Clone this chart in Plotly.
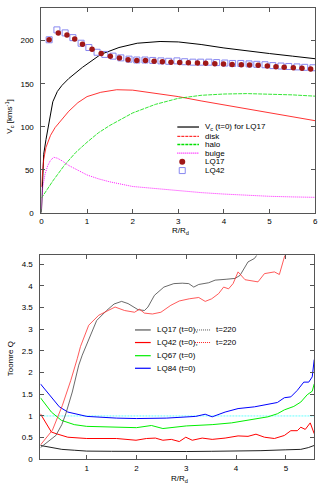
import plotly.graph_objects as go

W, H = 332, 498

# ---------------- top panel data ----------------
vc_r = [0, 0.02, 0.05, 0.1, 0.15, 0.2, 0.25, 0.35, 0.45, 0.6, 0.9, 1.3, 1.7, 2.1, 2.6, 3.0, 3.5, 4.0, 4.5, 5.0, 5.5, 6.0]
vc_v = [0, 40, 68, 85, 100, 117, 129, 141, 148, 156, 169, 184, 192, 197, 199, 198.5, 195.5, 191.5, 188, 185, 182, 179]

disk_r = [0, 0.02, 0.05, 0.1, 0.2, 0.3, 0.45, 0.6, 0.8, 1.0, 1.3, 1.65, 2.0, 2.5, 3.0, 3.5, 4.0, 4.5, 5.0, 5.5, 6.0]
disk_v = [30, 48, 62, 76, 90, 99, 108, 118, 128, 135, 140, 143, 142.5, 139, 135, 130, 125.5, 121, 116, 111.5, 107]

halo_r = [0, 0.25, 0.5, 0.75, 1.0, 1.25, 1.5, 1.75, 2.0, 2.5, 3.0, 3.5, 4.0, 4.5, 5.0, 5.5, 6.0]
halo_v = [17, 37, 55, 70, 82, 93, 101.5, 109, 116, 126, 133, 136.5, 138, 138.5, 138, 137, 135.5]

bulge_r = [0, 0.03, 0.08, 0.14, 0.2, 0.27, 0.35, 0.45, 0.6, 0.8, 1.0, 1.25, 1.5, 2.0, 2.5, 3.0, 3.5, 4.0, 4.5, 5.0, 5.5, 6.0]
bulge_v = [5, 30, 45, 55, 61, 64.5, 63.5, 60.5, 55, 49, 44, 39.5, 36, 30.6, 28, 25.6, 23.5, 21.8, 20.4, 19.2, 18.5, 18]

lq17_r = [0.17, 0.37, 0.56, 0.73, 0.90, 1.11, 1.31, 1.51, 1.71, 1.90, 2.09, 2.28, 2.47, 2.65, 2.84, 3.03,
          3.22, 3.42, 3.60, 3.80, 3.99, 4.18, 4.38, 4.56, 4.75, 4.95, 5.14, 5.32, 5.52, 5.71, 5.90]
lq17_v = [201, 209, 206.5, 202, 195.7, 190, 185, 182, 179.7, 177.8, 177, 177, 176.2, 175.5, 175, 174.7,
          174.4, 173.9, 173.6, 173.2, 172.8, 172.4, 172, 171.6, 171.3, 170.5, 169.8, 169, 168.6, 167.8, 167]

lq42_r = [0.17, 0.34, 0.52, 0.69, 0.87, 1.04, 1.22, 1.39, 1.57, 1.74, 1.92, 2.09, 2.27, 2.44, 2.62, 2.79, 2.97,
          3.14, 3.32, 3.49, 3.67, 3.84, 4.02, 4.19, 4.37, 4.55, 4.72, 4.90, 5.07, 5.25, 5.42, 5.60, 5.77, 5.95]
lq42_v = [201, 212.5, 209, 203.5, 197, 192, 186.5, 184, 182, 180, 178.5, 177.5, 177.5, 177, 176.5, 176, 176.5,
          175.5, 175, 175, 175, 174.5, 174, 173.5, 173.5, 173, 172.5, 172, 171, 170.5, 170, 169.5, 169, 168.5]

# ---------------- bottom panel data ----------------
q17_r = [0.07, 0.3, 0.5, 0.75, 1.0, 1.5, 2.0, 2.5, 3.0, 3.5, 4.0, 4.5, 5.0, 5.3, 5.45, 5.57]
q17_v = [0.32, 0.27, 0.23, 0.21, 0.19, 0.185, 0.18, 0.18, 0.18, 0.185, 0.19, 0.2, 0.22, 0.23, 0.27, 0.32]

q42_r = [0.07, 0.29, 0.39, 0.62, 1.0, 1.6, 1.99, 2.2, 2.38, 2.53, 2.7, 2.86, 2.99, 3.12, 3.32, 3.52, 3.78,
         4.04, 4.24, 4.4, 4.57, 4.77, 4.97, 5.1, 5.23, 5.3, 5.39, 5.49, 5.57]
q42_v = [1.05, 0.63, 0.59, 0.51, 0.48, 0.48, 0.44, 0.48, 0.49, 0.44, 0.46, 0.41, 0.51, 0.44, 0.49, 0.46, 0.49,
         0.54, 0.53, 0.58, 0.51, 0.48, 0.55, 0.66, 0.66, 0.74, 0.69, 0.84, 0.59]

q67_r = [0.07, 0.29, 0.49, 0.75, 1.0, 1.5, 2.0, 2.3, 2.53, 3.0, 3.52, 3.91, 4.31, 4.64, 4.83, 4.97, 5.16,
         5.3, 5.43, 5.53, 5.57]
q67_v = [1.42, 1.09, 0.9, 0.8, 0.76, 0.74, 0.73, 0.78, 0.71, 0.77, 0.8, 0.84, 0.91, 0.98, 1.05, 1.14, 1.22,
         1.32, 1.49, 1.57, 1.74]

q84_r = [0.07, 0.29, 0.45, 0.62, 1.0, 1.6, 2.0, 2.6, 3.0, 3.19, 3.38, 3.52, 3.78, 4.04, 4.37, 4.64, 4.83,
         4.97, 5.1, 5.23, 5.36, 5.46, 5.53, 5.57]
q84_v = [1.74, 1.44, 1.21, 1.09, 0.99, 0.95, 0.94, 0.95, 0.98, 0.99, 1.04, 0.98, 1.09, 1.17, 1.21, 1.27, 1.31,
         1.42, 1.44, 1.59, 1.78, 1.78, 1.9, 2.3]

q17b_r = [0.07, 0.2, 0.38, 0.5, 0.58, 0.71, 0.84, 0.91, 1.04, 1.2, 1.4, 1.55, 1.7, 1.83, 2.03, 2.16, 2.23,
          2.36, 2.55, 2.75, 2.92, 3.05, 3.15, 3.25, 3.45, 3.58, 3.8, 3.98, 4.08, 4.24, 4.37, 4.47, 4.6]
q17b_v = [0.27, 0.38, 0.55, 0.8, 1.05, 1.55, 2.17, 2.4, 2.74, 3.2, 3.43, 3.58, 3.64, 3.59, 3.45, 3.43, 3.51,
          3.78, 3.97, 4.05, 4.06, 4.05, 3.97, 4.03, 4.07, 4.13, 4.15, 4.17, 4.24, 4.55, 4.63, 4.78, 5.0]

q42b_r = [0.07, 0.31, 0.51, 0.68, 0.81, 0.875, 1.04, 1.24, 1.43, 1.57, 1.76, 1.96, 2.06, 2.16, 2.32, 2.49,
          2.69, 2.86, 3.06, 3.25, 3.38, 3.51, 3.65, 3.75, 3.85, 3.94, 4.04, 4.18, 4.44, 4.57, 4.77, 4.87,
          5.0, 5.1, 5.16, 5.25]
q42b_v = [0.33, 0.67, 1.24, 1.82, 2.32, 2.6, 3.09, 3.32, 3.43, 3.51, 3.43, 3.39, 3.46, 3.37, 3.35, 3.39,
          3.55, 3.65, 3.7, 3.73, 3.64, 3.7, 3.82, 3.97, 3.93, 4.05, 4.32, 4.14, 4.09, 4.28, 4.32, 4.26,
          4.78, 4.9, 4.72, 4.95]

q_ref = 1.0

# ---------------- figure ----------------
FONT = "Liberation Sans, Arial, sans-serif"
fig = go.Figure()

def line(x, y, color, xa, ya, width=1.0, dash="solid"):
    fig.add_trace(go.Scatter(x=x, y=y, mode="lines", xaxis=xa, yaxis=ya, showlegend=False,
                             line=dict(color=color, width=width, dash=dash), hoverinfo="skip"))

line(vc_r, vc_v, "#000000", "x", "y", 1.0)
line(disk_r, disk_v, "#ff0000", "x", "y", 0.8)
line(halo_r, halo_v, "#00e000", "x", "y", 0.8, "4px,1px")
line(bulge_r, bulge_v, "#ff00ff", "x", "y", 0.9, "1px,1px")
fig.add_trace(go.Scatter(x=lq42_r, y=lq42_v, mode="markers", xaxis="x", yaxis="y", showlegend=False,
                         marker=dict(symbol="square-open", size=6, color="#8888f0", line=dict(width=1))))
fig.add_trace(go.Scatter(x=lq17_r, y=lq17_v, mode="markers", xaxis="x", yaxis="y", showlegend=False,
                         marker=dict(symbol="circle", size=5.5, color="#a01818")))

line(q17_r, q17_v, "#222222", "x2", "y2", 1.0)
line(q42_r, q42_v, "#ff0000", "x2", "y2", 1.0)
line(q67_r, q67_v, "#00ee00", "x2", "y2", 1.0)
line(q84_r, q84_v, "#0000ff", "x2", "y2", 1.0)
line(q17b_r, q17b_v, "#444444", "x2", "y2", 0.8)
line(q42b_r, q42b_v, "#ff3030", "x2", "y2", 0.8)

# domains
xd1 = [40 / W, 318 / W]
yd1 = [1 - 215 / H, 1 - 8 / H]
xd2 = [39 / W, 317 / W]
yd2 = [1 - 464 / H, 1 - 258 / H]

axcommon = dict(showline=True, linecolor="#555555", linewidth=1, mirror="ticks", ticks="inside",
                ticklen=4, tickcolor="#555555", showgrid=False, zeroline=False,
                tickfont=dict(family=FONT, size=8, color="#000000"))

fig.update_layout(
    width=W, height=H, autosize=False,
    margin=dict(l=0, r=0, t=0, b=0),
    paper_bgcolor="white", plot_bgcolor="white",
    showlegend=False,
    xaxis=dict(domain=xd1, range=[0, 6], dtick=1, anchor="y", ticklabelstandoff=1, **axcommon),
    yaxis=dict(domain=yd1, range=[0, 238], dtick=50, anchor="x", ticklabelstandoff=5, **axcommon),
    xaxis2=dict(domain=xd2, range=[0.07, 5.57], tickvals=[1, 2, 3, 4, 5], anchor="y2",
                ticklabelstandoff=1, **axcommon),
    yaxis2=dict(domain=yd2, range=[0, 4.7], tickvals=[0, 0.5, 1, 1.5, 2, 2.5, 3, 3.5, 4, 4.5],
                ticktext=["0", "0.5", "1", "1.5", "2", "2.5", "3", "3.5", "4", "4.5"],
                anchor="x2", ticklabelstandoff=5, **axcommon),
)

# Q = 1 reference line
fig.add_shape(type="line", xref="x2 domain", yref="y2", x0=0, x1=1, y0=q_ref, y1=q_ref,
              line=dict(color="#66ffff", width=1, dash="2px,1px"), layer="below")

anns = []
def txt(x, y, s, size=8, xanchor="left", angle=0):
    anns.append(dict(x=x / W, y=1 - y / H, xref="paper", yref="paper", text=s, showarrow=False,
                     xanchor=xanchor, yanchor="middle", textangle=angle,
                     font=dict(family=FONT, size=size, color="#000000")))

def seg(x0, x1, y, color, dash="solid", width=1.0):
    fig.add_shape(type="line", xref="paper", yref="paper", x0=x0 / W, x1=x1 / W,
                  y0=1 - y / H, y1=1 - y / H, line=dict(color=color, width=width, dash=dash))

# axis titles
txt(8, 118, "V<sub>c</sub> [kms<sup>-1</sup>]", 8, "center", -90)
txt(181, 233, "R/R<sub>d</sub>", 8, "center")
txt(8, 362, "Toomre Q", 8, "center", -90)
txt(180, 484, "R/R<sub>d</sub>", 8, "center")

# top legend
ty = [128.3, 137.7, 146.0, 154.7, 163.3, 172.3]
seg(178, 200, ty[0], "#000000", width=1.2)
seg(178, 200, ty[1], "#ff0000", "3px,1px", 1.0)
seg(178, 200, ty[2], "#00e000", "3px,1px", 1.4)
seg(178, 200, ty[3], "#ff00ff", "1px,1px", 1.2)
fig.add_shape(type="circle", xref="paper", yref="paper", xsizemode="pixel", ysizemode="pixel",
              xanchor=183 / W, yanchor=1 - ty[4] / H, x0=-3, x1=3, y0=-3, y1=3,
              fillcolor="#a01818", line=dict(width=0))
fig.add_shape(type="rect", xref="paper", yref="paper", xsizemode="pixel", ysizemode="pixel",
              xanchor=183 / W, yanchor=1 - ty[5] / H, x0=-3, x1=3, y0=-3, y1=3,
              line=dict(color="#8888f0", width=1))
txt(204, ty[0], "V<sub>c</sub> (t=0) for LQ17")
txt(204, ty[1], "disk")
txt(204, ty[2], "halo")
txt(204, ty[3], "bulge")
txt(204, ty[4], "LQ17")
txt(204, ty[5], "LQ42")

# bottom legend
by = [333.3, 346.0, 359.3, 372.0]
seg(135, 151, by[0], "#555555", width=1.2)
seg(135, 151, by[1], "#ff0000", width=1.2)
seg(135, 151, by[2], "#00ee00", width=1.2)
seg(135, 151, by[3], "#0000ff", width=1.2)
seg(196, 212, by[0], "#555555", "1px,1px", 1.0)
seg(196, 212, by[1], "#ff2020", "1px,1px", 1.0)
txt(155, by[0], "LQ17 (t=0),")
txt(155, by[1], "LQ42 (t=0),")
txt(155, by[2], "LQ67 (t=0)")
txt(155, by[3], "LQ84 (t=0)")
txt(215, by[0], "t=220")
txt(215, by[1], "t=220")

fig.update_layout(annotations=anns)
fig.write_html("out.html", config={"displayModeBar": False},
               post_script="document.body.style.margin='0';document.body.style.overflow='hidden';")
